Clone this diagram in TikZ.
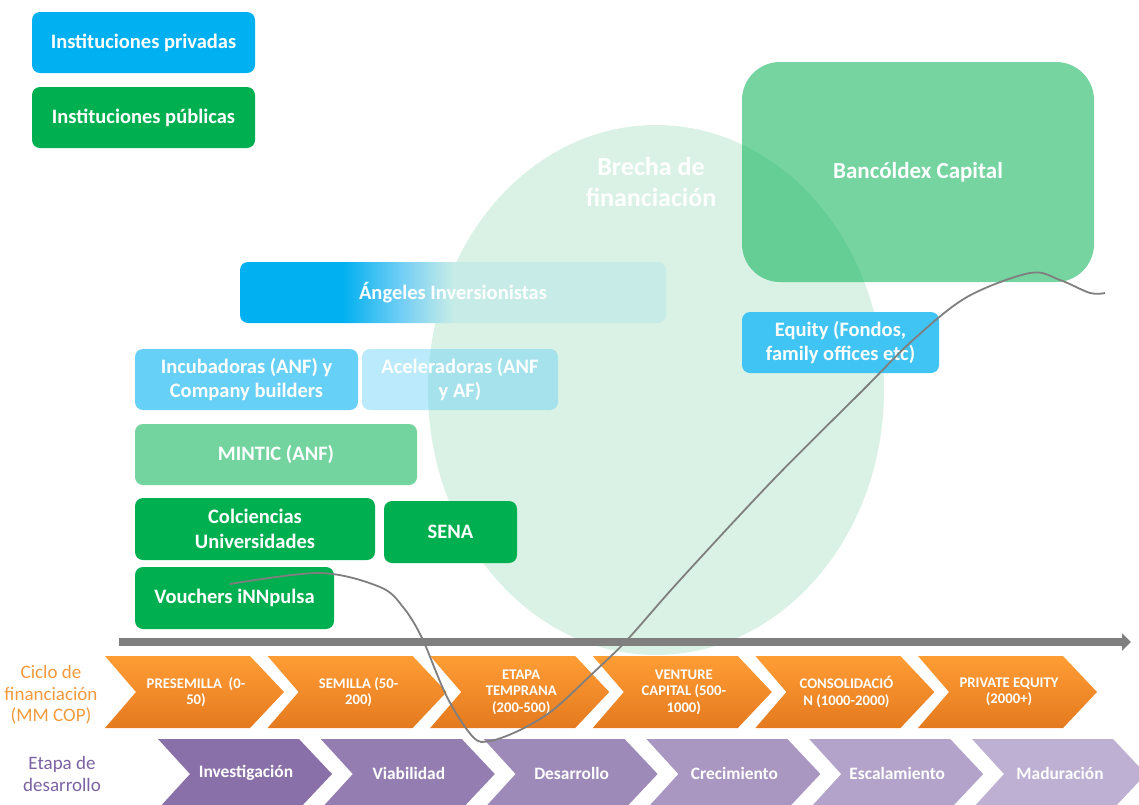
\documentclass[tikz,border=0pt]{standalone}
\usepackage{fontspec}
\setmainfont{Carlito}
\usetikzlibrary{arrows.meta}
\definecolor{cblue}{HTML}{00B0F0}
\definecolor{cgreen}{HTML}{00B050}
\definecolor{gapfill}{HTML}{DAF2E5}
\definecolor{lineg}{HTML}{7F7F7F}
\definecolor{oT}{HTML}{FF9D35}
\definecolor{oB}{HTML}{E47A1F}
\definecolor{pA}{HTML}{8A70A8}
\definecolor{pB}{HTML}{BDB0D2}
\definecolor{olab}{HTML}{F39A3C}
\definecolor{plab}{HTML}{7B62A3}
\pgfdeclarehorizontalshading{angel}{100bp}{rgb(0bp)=(0,.69,.94); rgb(37bp)=(0,.69,.94); rgb(44bp)=(.45,.81,.96); rgb(50bp)=(.78,.925,.905); rgb(100bp)=(.78,.925,.905)}
\begin{document}
\begin{tikzpicture}[x=1pt,y=-1pt,
  box/.style={rounded corners=8pt, align=center, text=white, inner sep=0pt,
    font=\bfseries\fontsize{20.5}{24.5}\selectfont},
  otext/.style={align=center, text=white, inner sep=0pt,
    font=\bfseries\fontsize{14.7}{16.5}\selectfont},
  ptext/.style={align=center, text=white, inner sep=0pt,
    font=\bfseries\fontsize{17.4}{20}\selectfont},
  side/.style={align=center, inner sep=0pt, font=\fontsize{19}{21.5}\selectfont},
  curve/.style={draw=lineg, line width=1.8pt}]
\useasboundingbox (0,0) rectangle (1139,804);
\clip (0,0) rectangle (1139,804);

% funding gap ellipse
\fill[gapfill] (656,390) ellipse [x radius=228, y radius=265];
\node[text=white, align=center, inner sep=0pt, font=\bfseries\fontsize{26}{31}\selectfont] (gap) at (651,182) {Brecha de\\financiación};

% legend
\node[box, fill=cblue, minimum width=223, minimum height=61] (priv) at (143.5,42.5) {Instituciones privadas};
\node[box, fill=cgreen, minimum width=223, minimum height=61] (publ) at (143.5,117.5) {Instituciones públicas};

% boxes
\node[box, fill=cgreen, fill opacity=0.54, text opacity=1, rounded corners=38pt, minimum width=352, minimum height=220, font=\bfseries\fontsize{23}{27}\selectfont] (banc) at (918,172) {Bancóldex Capital};
\node[box, shading=angel, minimum width=426, minimum height=61] (ang) at (453,292.5) {Ángeles Inversionistas};
\node[box, fill=cblue!75!white, minimum width=197, minimum height=61] (equ) at (840.5,342.5) {Equity (Fondos,\\family offices etc)};
\node[box, fill=cblue!60!white, minimum width=223, minimum height=61] (inc) at (246.5,379.5) {Incubadoras (ANF) y\\Company builders};
\node[box, fill=cblue!60!white, fill opacity=0.45, text opacity=1, minimum width=196, minimum height=61] (acel) at (460,379.5) {Aceleradoras (ANF\\y AF)};
\node[box, fill=cgreen!55!white, minimum width=282, minimum height=61] (mint) at (276,454.5) {MINTIC (ANF)};
\node[box, fill=cgreen, minimum width=240, minimum height=62] (colc) at (255,529) {Colciencias\\Universidades};
\node[box, fill=cgreen, minimum width=133, minimum height=62] (sena) at (450.5,532) {SENA};
\node[box, fill=cgreen, minimum width=199, minimum height=62] (vouc) at (234.5,598) {Vouchers iNNpulsa};

% axis arrow
\coordinate (axs) at (119,642);
\coordinate (axe) at (1131,642);
\draw[draw=lineg, line width=8pt, -{Triangle[length=9pt,width=17pt]}] (axs) -- (axe);

% side labels
\node[side, text=olab] (ciclo) at (51,695) {Ciclo de\\financiación\\(MM COP)};
\node[side, text=plab] (etapa) at (62,774) {Etapa de\\desarrollo};

% orange chevrons
\foreach \i/\t in {0/{PRESEMILLA\ \ (0-\\50)},1/{SEMILLA (50-\\200)},2/{ETAPA\\TEMPRANA\\(200-500)},3/{VENTURE\\CAPITAL (500-\\1000)},4/{CONSOLIDACIÓ\\N (1000-2000)},5/{PRIVATE EQUITY\\(2000+)}}{
  \pgfmathsetmacro\xo{105+162.6*\i}
  \shade[top color=oT, bottom color=oB] (\xo,656) -- ++(145,0) -- ++(34,36) -- ++(-34,36) -- ++(-145,0) -- ++(31,-36) -- cycle;
  \node[otext] (o\i) at (\xo+91,692) {\t};
}

% purple chevrons
\foreach \i/\t in {0/Investigación,1/Viabilidad,2/Desarrollo,3/Crecimiento,4/Escalamiento,5/Maduración}{
  \pgfmathsetmacro\xo{158+162.8*\i}
  \pgfmathtruncatemacro\pct{20*\i}
  \fill[pB!\pct!pA] (\xo,739) -- ++(141,0) -- ++(33,35) -- ++(-33,35) -- ++(-141,0) -- ++(32,-35) -- cycle;
  \node[ptext] (p\i) at (\xo+88,773) {\t};
}

% growth curve
\draw[curve] plot[smooth, tension=0.55] coordinates {(230,584) (320,573) (380,587) (403,607) (422,638) (447,697) (473,737) (490,741) (520,730) (553,710) (593,673) (627,640) (680,580) (773,480) (863,390) (913,340) (967,297) (1030,273) (1060,280) (1090,293) (1105,293)};
\end{tikzpicture}
\end{document}
